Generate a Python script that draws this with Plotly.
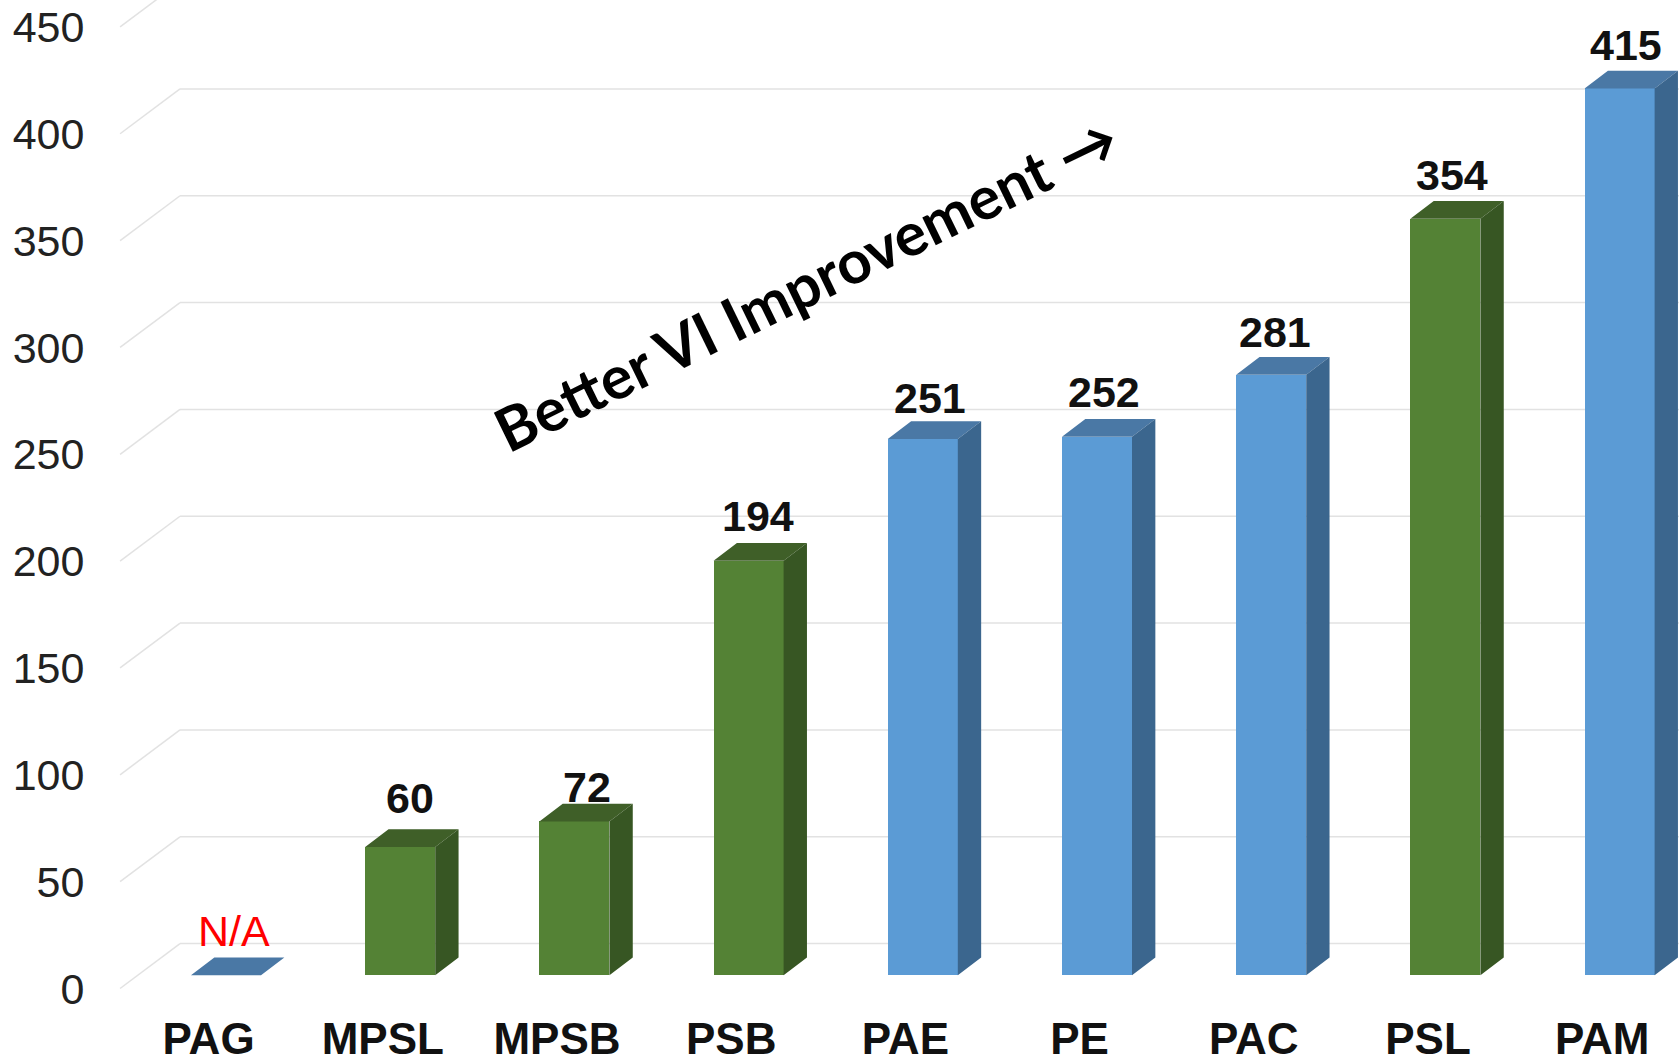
import plotly.graph_objects as go

categories = ["PAG", "MPSL", "MPSB", "PSB", "PAE", "PE", "PAC", "PSL", "PAM"]
values = [0, 60, 72, 194, 251, 252, 281, 354, 415]
labels = ["N/A", "60", "72", "194", "251", "252", "281", "354", "415"]
groups = ["b", "g", "g", "g", "b", "b", "b", "g", "b"]
y_ticks = [0, 50, 100, 150, 200, 250, 300, 350, 400, 450]

# layout / style
PAL = {"b": ("#5B9BD5", "#4A78A5", "#3B668E"), "g": ("#548235", "#3F5F28", "#375623")}
nudge_x = [8, 10, 13, 9, 7, 7, 4, 7, 6]
nudge_y = [1, 5, -9, 1, -3, 1, -1, 0, 0]
BASE, DY = 6.2, 8.3       # bar floor offset, bar depth (y units)
W, DX = 0.402, 0.134      # bar width, bar depth (x units)
WALL_X0, WALL_X1, WALL_DY = -0.608, -0.264, 21
X_RANGE = [-0.752, 8.341]
Y_RANGE = [-4.45, 462.6]
FONT = "Liberation Sans"

fig = go.Figure()
xs = list(range(len(categories)))
fig.add_trace(go.Bar(x=xs, y=values, base=[BASE] * len(values), width=W,
                     marker=dict(color=[PAL[g][0] for g in groups], line=dict(width=0)),
                     hoverinfo="skip", showlegend=False))

for key in PAL:
    top_x, top_y, side_x, side_y = [], [], [], []
    for x, v, g in zip(xs, values, groups):
        if g != key:
            continue
        t = BASE + v
        l, r = x - W / 2, x + W / 2
        top_x += [l, r, r + DX, l + DX, l, None]
        top_y += [t, t, t + DY, t + DY, t, None]
        if v > 0:
            side_x += [r, r + DX, r + DX, r, r, None]
            side_y += [BASE, BASE + DY, t + DY, t, BASE, None]
    for px, py, col in ((top_x, top_y, PAL[key][1]), (side_x, side_y, PAL[key][2])):
        if px:
            fig.add_trace(go.Scatter(x=px, y=py, mode="lines", fill="toself", fillcolor=col,
                                     line=dict(width=0), hoverinfo="skip", showlegend=False))

shapes = []
for v in y_ticks:
    for (a, b, c, d) in ((WALL_X0, v, WALL_X1, v + WALL_DY), (WALL_X1, v + WALL_DY, X_RANGE[1], v + WALL_DY)):
        shapes.append(dict(type="line", xref="x", yref="y", x0=a, y0=b, x1=c, y1=d,
                           layer="below", line=dict(color="#E2E2E2", width=1.5)))

ann = []
for x, v, lab, nx, ny in zip(xs, values, labels, nudge_x, nudge_y):
    na = lab == "N/A"
    ann.append(dict(x=x, y=BASE + v + DY, xref="x", yref="y", text=lab, showarrow=False,
                    xanchor="center", yanchor="bottom", xshift=nx, yshift=ny,
                    font=dict(family=FONT, size=43, color="#FF0000" if na else "#111111",
                              weight=400 if na else 700)))
ann.append(dict(x=3.33, y=330, xref="x", yref="y", text="Better VI Improvement →", showarrow=False,
                textangle=-26, xanchor="center", yanchor="middle",
                font=dict(family="Lato", size=60, color="#000000", weight=700)))

fig.update_layout(
    width=1679, height=1059, autosize=False,
    margin=dict(l=95, r=0, t=0, b=61, pad=0),
    paper_bgcolor="white", plot_bgcolor="white",
    showlegend=False, bargap=0, shapes=shapes, annotations=ann,
    xaxis=dict(range=X_RANGE, tickmode="array", tickvals=[x - 0.1 for x in xs], ticktext=categories,
               showgrid=False, zeroline=False, showline=False, ticks="outside", ticklen=2,
               tickcolor="rgba(0,0,0,0)", tickangle=0, automargin=False,
               tickfont=dict(family=FONT, size=44, color="#111111", weight=700)),
    yaxis=dict(range=Y_RANGE, tickmode="array", tickvals=y_ticks, ticktext=[str(v) for v in y_ticks],
               showgrid=False, zeroline=False, showline=False, ticks="outside", ticklen=1,
               tickcolor="rgba(0,0,0,0)", automargin=False,
               tickfont=dict(family=FONT, size=43, color="#222222")),
)

fig.write_html("out.html", config={"displayModeBar": False}, post_script="document.body.style.margin='0';")
